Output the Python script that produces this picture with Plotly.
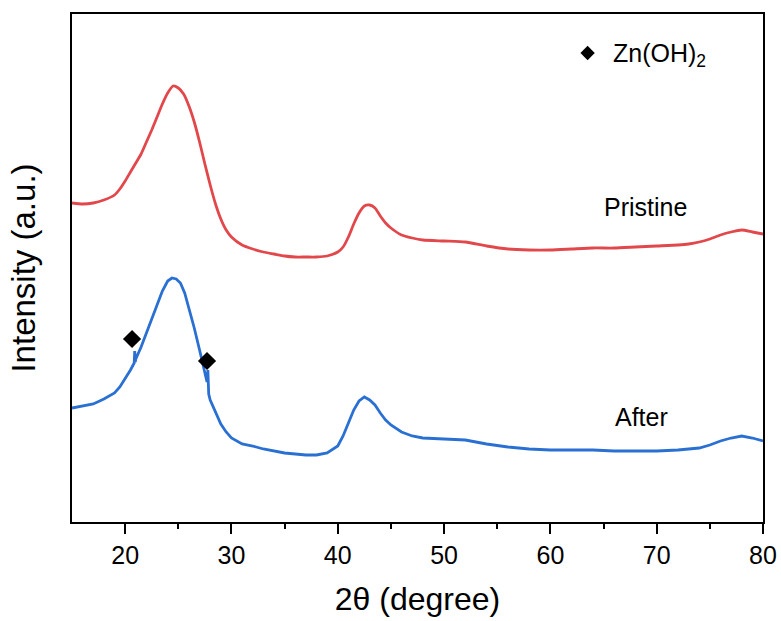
import plotly.graph_objects as go

# 2-theta positions (degree) and intensities (a.u.)
two_theta_pristine = [15, 16, 17, 18, 19, 19.5, 20, 20.5, 21, 21.5, 22, 22.5,
                      23, 23.5, 24, 24.5, 25, 25.5, 26, 26.5, 27, 27.5, 28,
                      28.5, 29, 29.5, 30,
                      31, 32, 33, 34, 35, 36, 37, 38, 39, 40,
                      40.5, 41, 41.5, 42, 42.5, 43, 43.5, 44, 44.5,
                      45, 46, 47, 48,
                      50, 52, 54, 56, 58, 60, 62, 64, 66, 68, 70, 72,
                      73, 74, 75, 76, 77, 78, 79, 80]
intensity_pristine = [319, 318, 319, 322, 327, 333, 341, 350, 359, 368, 380, 392,
                      405, 418, 429, 436, 434, 428, 416, 400, 380, 358, 337,
                      318, 303, 292, 285,
                      277, 273, 270, 268, 266, 265, 265, 265, 266, 270,
                      275, 285, 298, 309, 316, 317, 314, 306, 299,
                      294, 287, 284, 282,
                      281, 280, 276, 273, 272, 272, 273, 274, 274, 275, 276, 277,
                      278, 280, 283, 287, 290, 292, 290, 288]

two_theta_after = [15, 16, 17, 18, 19, 19.5, 20,
                   20.5, 20.85, 20.9, 20.95, 21,
                   21.5, 22, 22.5, 23, 23.5, 24,
                   24.4, 24.8, 25.2, 25.6, 26,
                   26.5, 27, 27.5, 27.7, 27.78, 27.86, 28,
                   28.5, 29, 29.5, 30,
                   31, 32, 33, 34, 35, 36, 37, 38, 39, 40,
                   40.5, 41, 41.5, 42, 42.5, 43, 43.5, 44, 44.5,
                   45, 46, 47, 48,
                   50, 52, 54, 56, 58, 60, 62, 64, 66, 68, 70, 72,
                   73, 74, 75, 76, 77, 78, 79, 80]
intensity_after = [114, 116, 118, 123, 129, 135, 143,
                   152, 159, 171, 160, 163,
                   175, 189, 204, 219, 231, 241,
                   244, 243, 239, 229, 214,
                   194, 172, 150, 140, 152, 128, 122,
                   109, 98, 90, 84,
                   78, 76, 73, 71, 69, 68, 67, 67, 69, 76,
                   86, 99, 112, 121, 125, 122, 117, 109, 102,
                   97, 90, 86, 84,
                   83, 82, 78, 75, 73, 72, 72, 72, 71, 71, 71, 72,
                   73, 74, 77, 81, 84, 86, 84, 81]

# Zn(OH)2 marker positions
znoh_theta = [20.65, 27.7]
znoh_intensity = [183, 161]

# legend-like key
key_theta = [63.5]
key_intensity = [469]

x_ticks = [20, 30, 40, 50, 60, 70, 80]

RED = "#E2484B"
BLUE = "#2A70D2"
FONT = "Arial, Liberation Sans, sans-serif"

fig = go.Figure()
fig.add_trace(go.Scatter(x=two_theta_pristine, y=intensity_pristine, mode="lines",
                         line=dict(color=RED, width=2.8, shape="spline", smoothing=0.6),
                         name="Pristine", showlegend=False))
fig.add_trace(go.Scatter(x=two_theta_after, y=intensity_after, mode="lines",
                         line=dict(color=BLUE, width=2.8), name="After", showlegend=False))
fig.add_trace(go.Scatter(x=znoh_theta, y=znoh_intensity, mode="markers",
                         marker=dict(symbol="diamond", size=14, color="black"),
                         showlegend=False, name="Zn(OH)2"))
fig.add_trace(go.Scatter(x=key_theta, y=key_intensity, mode="markers",
                         marker=dict(symbol="diamond", size=11, color="black"),
                         showlegend=False, name="key"))

fig.add_annotation(x=65.7, y=467, text="Zn(OH)<sub>2</sub>", showarrow=False,
                   xanchor="left", yanchor="middle", font=dict(size=25, color="black", family=FONT))
fig.add_annotation(x=68.95, y=315, text="Pristine", showarrow=False,
                   xanchor="center", yanchor="middle", font=dict(size=25, color="black", family=FONT))
fig.add_annotation(x=68.6, y=105, text="After", showarrow=False,
                   xanchor="center", yanchor="middle", font=dict(size=25, color="black", family=FONT))

fig.update_layout(
    width=781, height=621,
    margin=dict(l=72, r=18, t=14, b=99, autoexpand=False),
    paper_bgcolor="white", plot_bgcolor="white",
    font=dict(family=FONT, color="black"),
)
fig.update_xaxes(
    range=[15, 80], tickvals=x_ticks, ticktext=[str(v) for v in x_ticks],
    ticks="outside", ticklen=10, tickwidth=1.6, tickcolor="black",
    tickfont=dict(size=25, family=FONT, color="black"),
    minor=dict(ticks="outside", ticklen=5, tickwidth=1.6, tickcolor="black",
               tickvals=[25, 35, 45, 55, 65, 75], showgrid=False),
    showline=True, linecolor="black", linewidth=2, mirror=True,
    showgrid=False, zeroline=False, automargin=False,
    title=dict(text="2θ (degree)", font=dict(size=32, family=FONT, color="black"), standoff=20),
)
fig.update_yaxes(
    range=[0, 508], showticklabels=False, ticks="",
    showline=True, linecolor="black", linewidth=2, mirror=True,
    showgrid=False, zeroline=False, automargin=False,
    title=dict(text="Intensity (a.u.)", font=dict(size=33, family=FONT, color="black"), standoff=24),
)

fig.write_html("out.html")
